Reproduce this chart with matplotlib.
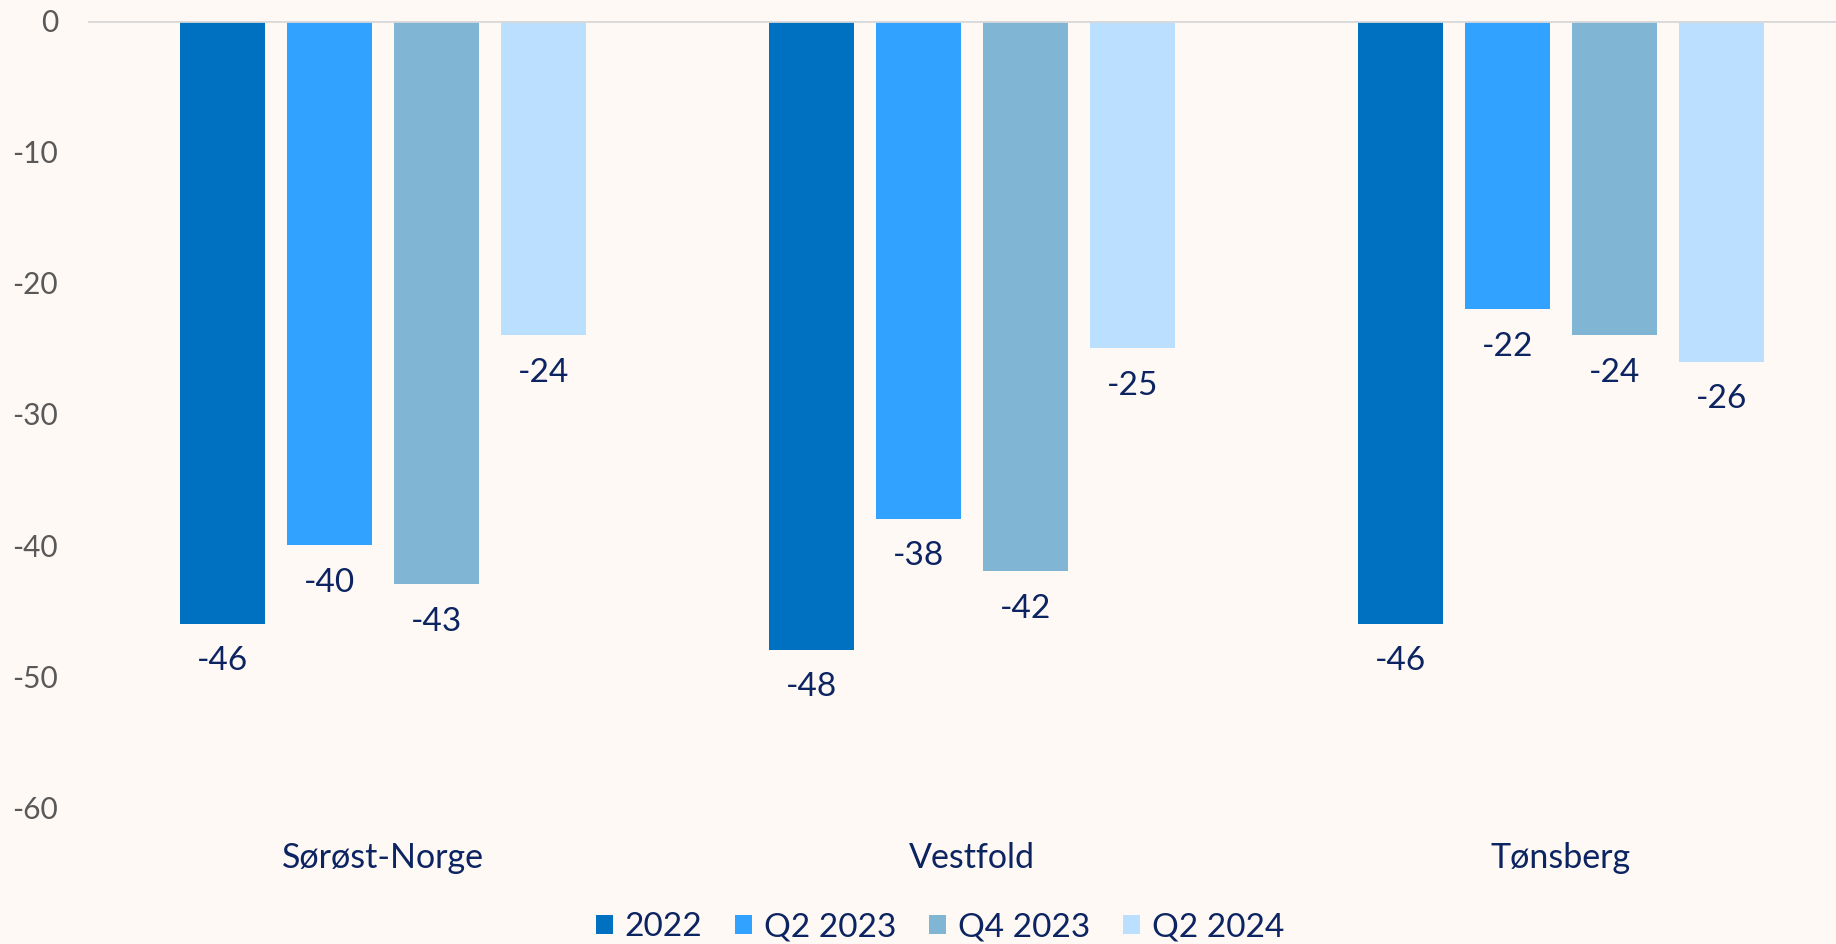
import matplotlib
matplotlib.use("Agg")
import matplotlib.pyplot as plt
import numpy as np

categories = ["Sørøst-Norge", "Vestfold", "Tønsberg"]
series_names = ["2022", "Q2 2023", "Q4 2023", "Q2 2024"]
v2022 = [-46, -48, -46]
vq2_2023 = [-40, -38, -22]
vq4_2023 = [-43, -42, -24]
vq2_2024 = [-24, -25, -26]
yticks = [0, -10, -20, -30, -40, -50, -60]

colors = ["#0070C0", "#31A2FF", "#80B5D4", "#BBE0FF"]
bg = "#FFF9F5"
navy = "#0C2461"
gray = "#595959"

plt.rcParams['font.family'] = ['Lato', 'DejaVu Sans']

fig = plt.figure(figsize=(18.36, 9.44), dpi=100, facecolor=bg)
ax = fig.add_axes([0.0482, 0.145, 0.9624, 0.833])
ax.set_facecolor(bg)

series = [v2022, vq2_2023, vq4_2023, vq2_2024]
x = np.arange(len(categories))
width = 0.1443
step = 0.1817
for i, (vals, name, c) in enumerate(zip(series, series_names, colors)):
    pos = x + (i - 1.5) * step
    ax.bar(pos, vals, width, color=c, label=name, zorder=2)
    for p, v in zip(pos, vals):
        ax.annotate(f"{v}", (p, v), xytext=(0, -27), textcoords="offset points",
                    ha="center", va="center", fontsize=24, color=navy)

ax.set_xlim(-0.5, 2.5)
ax.set_ylim(-60, 0)
ax.axhline(0, color="#D9D9D9", lw=2, zorder=3, clip_on=True)
for s in ax.spines.values():
    s.set_visible(False)
ax.set_yticks(yticks)
ax.set_yticklabels([str(t) for t in yticks])
ax.tick_params(axis="y", length=0, pad=22, labelsize=21.5, labelcolor=gray)
ax.set_xticks(x)
ax.set_xticklabels(categories)
ax.tick_params(axis="x", length=0, pad=25, labelsize=24.5, labelcolor=navy)

leg = fig.legend(loc="lower center", bbox_to_anchor=(0.512, -0.03), ncol=4,
                 frameon=False, fontsize=24, handlelength=0.5, handleheight=0.5,
                 handletextpad=0.35, columnspacing=1.0)
for t in leg.get_texts():
    t.set_color(navy)

fig.savefig("out.png", dpi=100, facecolor=bg)
